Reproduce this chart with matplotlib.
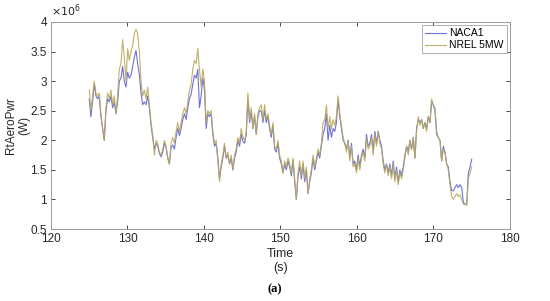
import matplotlib
matplotlib.use('Agg')
import matplotlib.pyplot as plt
from matplotlib.ticker import FuncFormatter
import numpy as np

# rotor aerodynamic power, in units of 1e6 W, sampled evenly from 125 s to 175 s
naca1 = [2.7, 2.4, 2.65, 2.95, 2.75, 2.7, 2.75, 2.4, 2.2, 2.0, 2.5, 2.7, 2.65, 2.75, 2.55,
         2.65, 2.45, 2.65, 3.0, 3.05, 3.25, 3.0, 2.9, 3.15, 3.05, 3.1, 3.25, 3.4, 3.52, 3.3,
         3.1, 2.8, 2.6, 2.65, 2.6,
         2.75, 2.55, 2.25, 2.05,
         1.85, 1.95, 1.9, 1.78, 1.72, 1.8, 1.95, 1.88, 1.7, 1.6, 1.88, 1.92, 1.85, 2.05, 2.2,
         2.08, 2.2, 2.35, 2.45, 2.35, 2.55, 2.7, 2.78, 2.95, 3.1, 3.05, 3.2, 2.55, 2.75, 3.05,
         2.85, 2.2, 2.45, 2.4, 2.45, 2.1, 1.9, 1.95, 1.7, 1.35,
         1.55, 1.7, 1.9, 1.7, 1.75, 1.6, 1.7, 1.5, 1.7, 1.8, 2.0, 1.9, 2.1, 1.98, 1.95, 2.1,
         2.7, 2.3, 2.5, 2.2, 2.4, 2.1, 2.4, 2.5, 2.5, 2.3, 2.5, 2.3, 2.4, 2.2, 2.05, 2.25,
         1.85, 1.8, 1.95, 1.7, 1.6, 1.45, 1.6, 1.5, 1.65, 1.55, 1.4, 1.65, 1.3, 1.0, 1.4,
         1.55, 1.35, 1.6, 1.3, 1.5, 1.1, 1.3, 1.45, 1.7, 1.5, 1.65, 1.8, 1.7, 1.9, 2.1, 2.2,
         2.45, 2.0, 2.25, 2.05, 2.2, 2.15, 2.3, 2.7, 2.4, 2.2, 2.0, 1.95, 1.85, 2.0, 1.7,
         1.95, 1.6, 1.65, 1.5, 1.75, 1.55, 1.75, 1.85, 1.7, 2.1, 1.9, 1.95, 2.1, 1.8, 2.15,
         1.95, 2.15, 2.0, 1.9, 1.65, 1.5, 1.6, 1.45, 1.6, 1.4, 1.65, 1.35, 1.55, 1.3, 1.5,
         1.4, 1.55, 1.75, 1.9, 1.8, 2.0, 1.85, 2.05, 1.7, 2.2, 2.35, 2.3, 2.35, 2.2, 2.3,
         2.2, 2.4, 2.3, 2.65, 2.6, 2.5, 2.1, 2.05, 2.0, 1.65, 1.9, 1.8, 1.6, 1.55, 1.3, 1.15,
         1.15, 1.2, 1.25, 1.2, 1.25, 1.2, 0.95, 0.92, 0.92, 1.45, 1.55, 1.68]

nrel_5mw = [2.85, 2.5, 2.75, 3.0, 2.8, 2.75, 2.8, 2.45, 2.2, 2.0, 2.55, 2.8, 2.7, 2.85, 2.6,
            2.75, 2.45, 2.75, 3.2, 3.3, 3.7, 3.4, 3.0, 3.55, 3.35, 3.5, 3.6, 3.8, 3.88, 3.8,
            3.5, 3.0, 2.75, 2.85, 2.7,
            2.9, 2.6, 2.3, 2.1,
            1.75, 2.0, 1.95, 1.8, 1.75, 1.85, 2.0, 1.9, 1.7, 1.6, 1.95, 2.05, 1.95, 2.15, 2.3,
            2.15, 2.3, 2.45, 2.55, 2.45, 2.65, 2.85, 2.95, 3.2, 3.35, 3.3, 3.55, 3.2, 2.9, 3.2,
            3.0, 2.3, 2.5, 2.45, 2.5, 2.15, 1.95, 2.0, 1.65, 1.3,
            1.6, 1.75, 1.95, 1.7, 1.8, 1.6, 1.75, 1.5, 1.75, 1.85, 2.05, 1.95, 2.2, 2.05, 2.0,
            2.15, 2.8, 2.35, 2.55, 2.2, 2.45, 2.1, 2.45, 2.55, 2.6, 2.35, 2.6, 2.35, 2.45, 2.25,
            2.1, 2.3, 1.9, 1.85, 2.0, 1.75, 1.65, 1.45, 1.65, 1.55, 1.7, 1.6, 1.45, 1.7, 1.35,
            1.0, 1.45, 1.65, 1.4, 1.65, 1.35, 1.55, 1.1, 1.35, 1.5, 1.75, 1.55, 1.7, 1.85, 1.75,
            1.95, 2.3, 2.35, 2.6, 2.2, 2.4, 2.2, 2.35, 2.25, 2.4, 2.75, 2.45, 2.25, 2.05, 1.95,
            1.8, 2.0, 1.65, 1.9, 1.55, 1.6, 1.45, 1.7, 1.5, 1.7, 1.8, 1.65, 2.05, 1.85, 1.9,
            2.05, 1.75, 2.1, 1.9, 2.15, 1.95, 1.85, 1.6, 1.45, 1.6, 1.4, 1.55, 1.35, 1.6, 1.3,
            1.5, 1.25, 1.45, 1.35, 1.5, 1.7, 1.9, 1.75, 2.0, 1.85, 2.05, 1.7, 2.15, 2.4, 2.25,
            2.35, 2.2, 2.3, 2.15, 2.4, 2.3, 2.7, 2.6, 2.55, 2.15, 2.05, 2.0, 1.65, 1.85, 1.8,
            1.6, 1.5, 1.25, 1.05, 1.0, 1.05, 1.1, 1.05, 1.08, 1.0, 0.92, 0.92, 0.9, 1.35, 1.45,
            1.55]

time = np.linspace(125, 175, len(naca1))

plt.rcParams['font.family'] = ['Liberation Sans', 'DejaVu Sans']
fig = plt.figure(figsize=(5.5, 3.01), dpi=100, facecolor='white')
ax = fig.add_axes([0.0927, 0.239, 0.8345, 0.688])

ax.plot(time, naca1, color='#6e72d8', lw=0.8, label='NACA1')
ax.plot(time, nrel_5mw, color='#b9a85a', lw=0.8, alpha=0.9, label='NREL 5MW')

ax.set_xlim(120, 180)
ax.set_ylim(0.5, 4)
ax.set_xticks(range(120, 181, 10))
ax.set_yticks(np.arange(0.5, 4.01, 0.5))
ax.yaxis.set_major_formatter(FuncFormatter(lambda v, p: f'{v:g}'))
ax.tick_params(direction='in', top=True, right=True, length=3, width=0.6,
               colors='#262626', labelsize=8.5, pad=3)
for s in ax.spines.values():
    s.set_color('#9a9a9a')
    s.set_linewidth(0.7)

ax.text(0.0, 1.015, r'$\times10^{6}$', transform=ax.transAxes, fontsize=8,
        color='#262626', ha='left', va='bottom')
ax.set_ylabel('RtAeroPwr\n(W)', fontsize=8.5, color='#262626', linespacing=1.1)
ax.yaxis.set_label_coords(-0.045, 0.5)
ax.set_xlabel('Time\n(s)', fontsize=9, color='#262626', labelpad=2)

leg = ax.legend(loc='upper right', fontsize=7.5, frameon=True, fancybox=False,
                borderpad=0.3, handlelength=2.0, handletextpad=0.3, labelspacing=0.2,
                borderaxespad=0.3)
leg.get_frame().set_edgecolor('#9a9a9a')
leg.get_frame().set_linewidth(0.7)

fig.text(0.5, 0.02, '(a)', fontsize=9, fontweight='bold', family='Liberation Serif',
         ha='center', va='bottom')

plt.savefig('out.png', dpi=100, facecolor='white')
plt.close()
